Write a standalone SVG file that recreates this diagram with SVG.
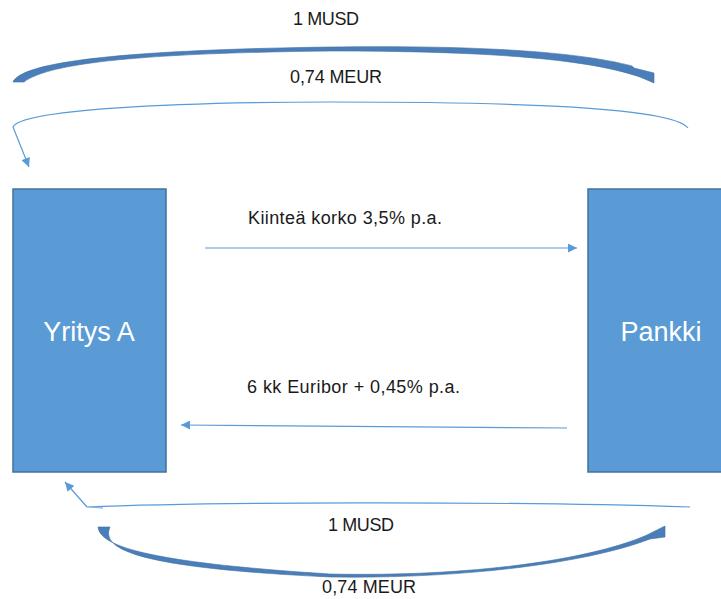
<svg xmlns="http://www.w3.org/2000/svg" width="721" height="599" viewBox="0 0 721 599">
<style>
.box{fill:#5B9BD5;stroke:#41719C;stroke-width:1.5}
.lbl{font-family:"Liberation Sans",Arial,sans-serif;font-size:18px;fill:#1a1a1a}
.big{font-family:"Liberation Sans",Arial,sans-serif;font-size:27px;fill:#ffffff;text-anchor:middle}
.thin{fill:none;stroke:#5B9BD5;stroke-width:1.2}
.thick{fill:#4A7EBB;stroke:#41719C;stroke-width:0.6}
</style>
<defs>
<marker id="ah" viewBox="0 0 10 10" refX="10" refY="5" markerWidth="12" markerHeight="9" markerUnits="userSpaceOnUse" orient="auto">
<path d="M0,0 L10,5 L0,10 Z" fill="#5B9BD5"/>
</marker>
</defs>
<rect width="721" height="599" fill="#ffffff"/>
<g id="yritys-a">
<rect class="box" x="13" y="189" width="153" height="283"/>
<text class="big" x="89" y="341">Yritys A</text>
</g>
<g id="pankki">
<rect class="box" x="588" y="189" width="140" height="283"/>
<text class="big" x="661" y="341">Pankki</text>
</g>
<g id="connectors">
<path class="thick" d="M13,82 C22,62 120,50 330,47 C480,45 580,52 632,66 L634,68 L654,73 L654,83 L640,77 C585,58 480,51 330,51 C150,53 50,62 24,82 Z"/>
<path class="thin" d="M688,128 C670,105 480,102 330,102 C170,102 20,110 13,127 L29,167" marker-end="url(#ah)"/>
<line class="thin" x1="205" y1="248" x2="577" y2="248" marker-end="url(#ah)"/>
<line class="thin" x1="567" y1="428" x2="181" y2="425" marker-end="url(#ah)"/>
<path class="thin" d="M103,508 L87,507 C200,502 500,501 690,507"/>
<line class="thin" x1="87" y1="507" x2="65" y2="482" marker-end="url(#ah)"/>
<path class="thick" d="M98,527 C100,545 140,562 330,574 C470,577 590,560 647,535 L665,526 L665,537 L650,539 C590,562 470,579 330,577 C140,568 100,550 110,527 Z"/>
</g>
<g id="labels">
<text class="lbl" x="326" y="25" text-anchor="middle" textLength="66">1 MUSD</text>
<text class="lbl" x="336" y="83" text-anchor="middle" textLength="92">0,74 MEUR</text>
<text class="lbl" x="248" y="224" textLength="194">Kiinteä korko 3,5% p.a.</text>
<text class="lbl" x="247" y="393" textLength="213">6 kk Euribor + 0,45% p.a.</text>
<text class="lbl" x="361" y="531" text-anchor="middle" textLength="66">1 MUSD</text>
<text class="lbl" x="369" y="593" text-anchor="middle" textLength="94">0,74 MEUR</text>
</g>
</svg>
